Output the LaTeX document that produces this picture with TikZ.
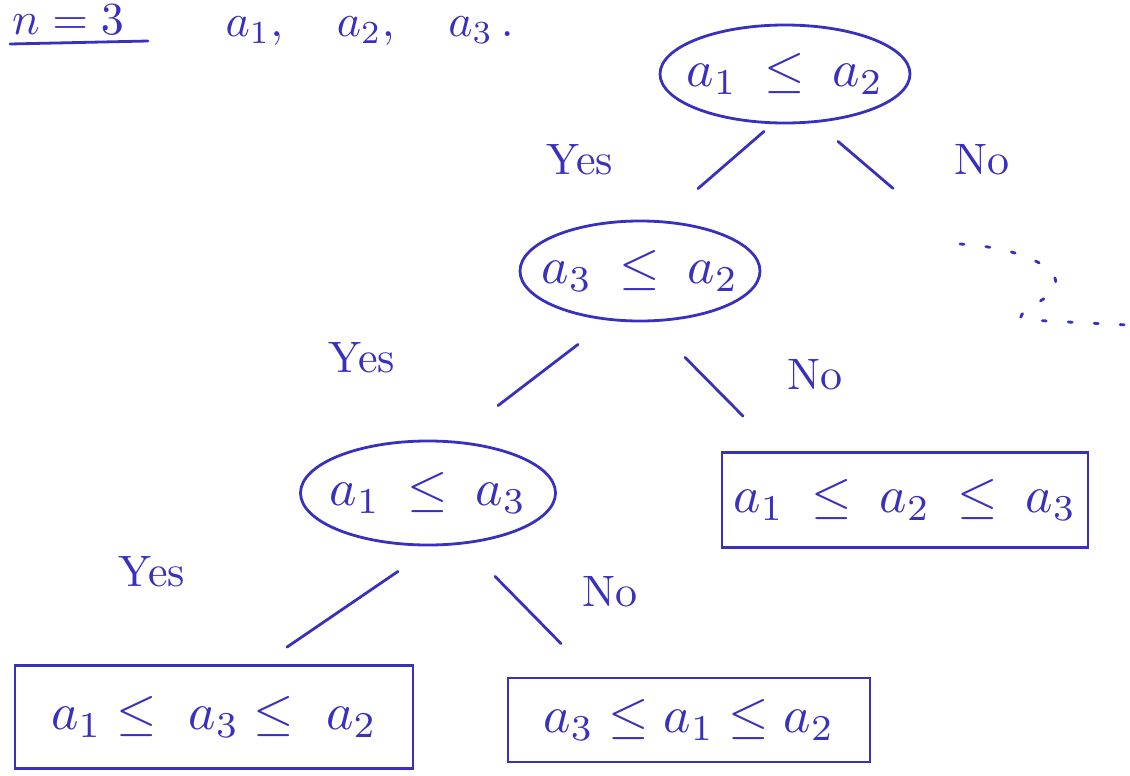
\documentclass[tikz,border=0pt]{standalone}
\usetikzlibrary{shapes.geometric}
\definecolor{ink}{RGB}{58,48,190}
\newcommand{\hwmath}[1]{\scalebox{5.2}{$#1$}}
\newcommand{\lee}{\mathrel{\hspace{0.25em}\le\hspace{0.25em}}}
\newcommand{\hwlab}[1]{\scalebox{4.4}{#1}}
\begin{document}
\begin{tikzpicture}[x=1pt,y=-1pt,
  every node/.style={text=ink},
  pen/.style={draw=ink,line width=2.8pt,line cap=round},
  dec/.style={ellipse,pen,inner sep=0pt},
  leaf/.style={rectangle,pen,inner sep=0pt},
  lab/.style={},
  conn/.style={pen}]
\useasboundingbox (0,0) rectangle (1130,776);
% header
\node[anchor=base] (n) at (68,35) {\scalebox{4.6}{$n=3$}};
\draw[pen] (10,44) -- (148,41);
\node[anchor=base west] (list) at (222,37) {\scalebox{4.6}{$a_1,\quad a_2,\quad a_3\,.$}};
% decision nodes (shape and text separately so the ellipse keeps its size)
\node[dec,minimum width=250,minimum height=98] (e1) at (785,74) {};
\node (e1t) at (e1) {\hwmath{a_1\lee a_2}};
\node[dec,minimum width=240,minimum height=100] (e2) at (640,271) {};
\node (e2t) at (e2) {\hwmath{a_3\lee a_2}};
\node[dec,minimum width=255,minimum height=104] (e3) at (428,493) {};
\node (e3t) at (e3) {\hwmath{a_1\lee a_3}};
% leaves
\node[leaf,minimum width=366,minimum height=95] (r1) at (905,500) {\hwmath{a_1\lee a_2\lee a_3}};
\node[leaf,minimum width=398,minimum height=103] (r2) at (214,717) {\hwmath{a_1\le\ a_3\le\ a_2}};
\node[leaf,minimum width=362,minimum height=84] (r3) at (689,720) {\hwmath{a_3\le a_1\le a_2}};
% connectors
\draw[conn] ([shift={(-21,7)}]e1.south) -- ([shift={(58,-31)}]e2.north);
\coordinate (e1no) at ([shift={(108,64)}]e1.south);
\draw[conn] ([shift={(53,17)}]e1.south) -- (e1no);
\draw[conn] ([shift={(-62,22)}]e2.south) -- ([shift={(70,-34)}]e3.north);
\draw[conn] ([shift={(45,35)}]e2.south) -- ([shift={(-162,-35)}]r1.north);
\draw[conn] ([shift={(-30,25)}]e3.south) -- ([shift={(73,-17)}]r2.north);
\draw[conn] ([shift={(67,30)}]e3.south) -- ([shift={(-128,-33)}]r3.north);
% labels
\node[lab] (y1) at (580,160) {\hwlab{Yes}};
\node[lab] (n1) at (982,160) {\hwlab{No}};
\node[lab] (y2) at (362,358) {\hwlab{Yes}};
\node[lab] (n2) at (815,375) {\hwlab{No}};
\node[lab] (y3) at (152,572) {\hwlab{Yes}};
\node[lab] (n3) at (610,592) {\hwlab{No}};
% dotted continuation
\draw[draw=ink,line width=2.8pt,line cap=round,dash pattern=on 4pt off 22pt]
  (960,244) .. controls (1030,248) and (1075,275) .. (1048,296)
  .. controls (1030,308) and (1010,318) .. (1028,320) -- (1128,325);
\end{tikzpicture}
\end{document}
